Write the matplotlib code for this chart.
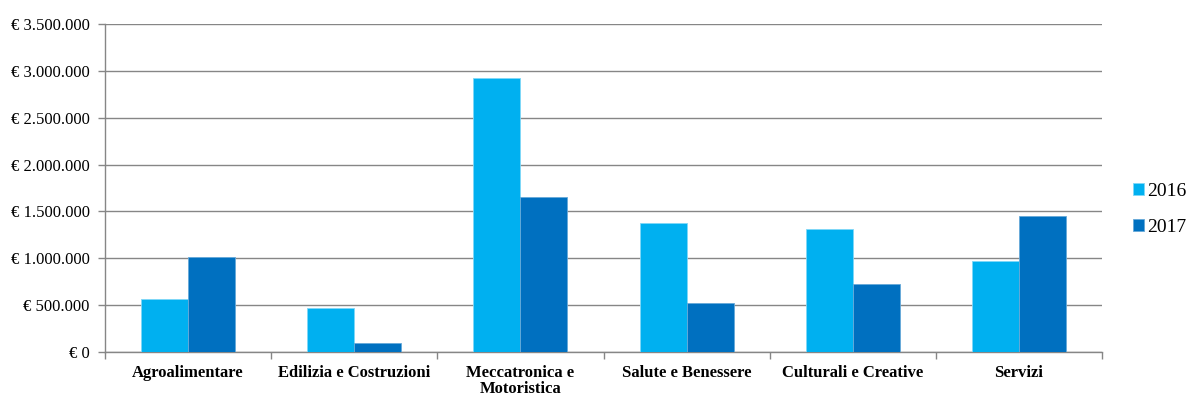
import numpy as np
import matplotlib.pyplot as plt
from matplotlib.ticker import FuncFormatter

categorie = ["Agroalimentare", "Edilizia e Costruzioni", "Meccatronica e\nMotoristica",
             "Salute e Benessere", "Culturali e Creative", "Servizi"]
valori_2016 = [562000, 466000, 2927000, 1377000, 1309000, 968000]
valori_2017 = [1014000, 93000, 1657000, 523000, 722000, 1451000]

plt.rcParams['font.family'] = ['Liberation Serif', 'DejaVu Serif']

fig = plt.figure(figsize=(11.88, 3.96), dpi=100)
ax = fig.add_axes([0.0884, 0.1111, 0.8392, 0.8283])

x = np.arange(len(categorie))
w = 0.283
ax.bar(x - w / 2, valori_2016, w, color="#00B0F0", edgecolor="#7fd7f7", linewidth=0.6, label="2016", zorder=3)
ax.bar(x + w / 2, valori_2017, w, color="#0070C0", edgecolor="#66a9d9", linewidth=0.6, label="2017", zorder=3)

ax.set_xlim(-0.5, len(categorie) - 0.5)
ax.set_ylim(0, 3500000)
ax.set_yticks(np.arange(0, 3500001, 500000))

def euro(v, pos):
    return "€ " + f"{int(v):,}".replace(",", ".")

ax.yaxis.set_major_formatter(FuncFormatter(euro))
ax.grid(axis="y", color="#868686", linewidth=1, zorder=0)
ax.set_axisbelow(True)

ax.set_xticks(x)
ax.set_xticklabels(categorie, fontweight="bold", fontsize=12, va="top", linespacing=1.05)
ax.set_xticks(np.arange(-0.5, len(categorie), 1), minor=True)
ax.tick_params(axis="x", which="major", length=0, pad=9)
ax.tick_params(axis="x", which="minor", length=5, color="#868686", width=1)
ax.tick_params(axis="y", length=5, color="#868686", width=1, labelsize=12, pad=6)

for s in ["top", "right"]:
    ax.spines[s].set_visible(False)
for s in ["left", "bottom"]:
    ax.spines[s].set_color("#868686")
    ax.spines[s].set_linewidth(1)

ax.legend(loc="center left", bbox_to_anchor=(1.031, 0.435), frameon=False, fontsize=14,
          borderaxespad=0, borderpad=0,
          handlelength=0.55, handleheight=0.55, handletextpad=0.2, labelspacing=0.95)

fig.savefig("out.png", dpi=100)
